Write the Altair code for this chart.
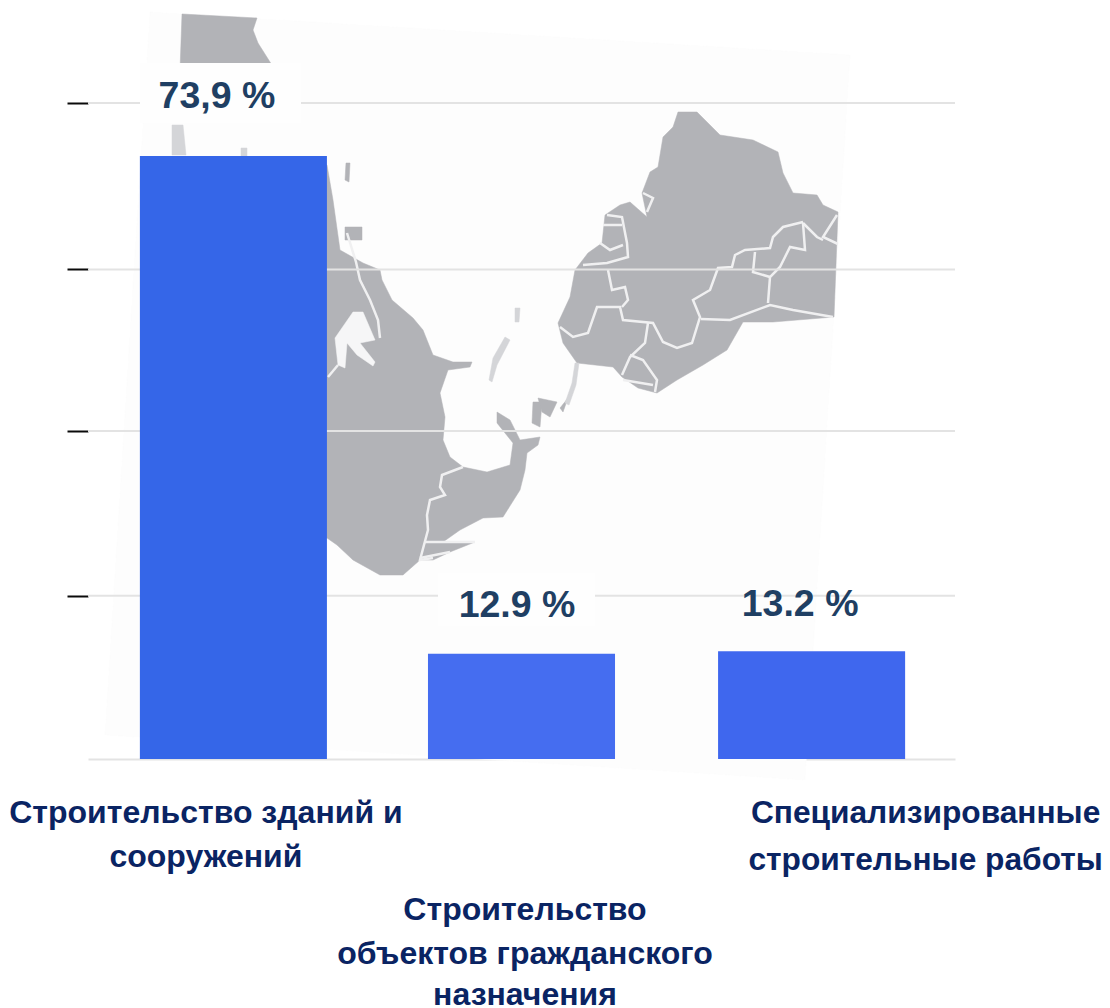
import altair as alt
import pandas as pd

categories = ["Строительство зданий и сооружений", "Строительство объектов гражданского назначения", "Специализированные строительные работы"]
values = [73.9, 12.9, 13.2]
value_labels = ["73,9 %", "12.9 %", "13.2 %"]
bar_colors = ["#3566e8", "#456df0", "#3f67ee"]
label_lines = [["Строительство зданий и", "сооружений"],
               ["Строительство", "объектов гражданского", "назначения"],
               ["Специализированные", "строительные работы"]]
grid_values = [20, 40.2, 60, 80.4]

image_sheet = [[150,12],[850,55],[805,780],[105,735]]
land_polygons = [
 [[182,14],[257,18],[253,30],[258,43],[270,62],[275,70],[180,70]],
 [[300,160],[327,165],[333,200],[340,250],[363,263],[380,270],[382,280],[392,300],[413,318],[423,330],[433,355],[453,362],[472,362],[470,367],[448,370],[440,393],[445,417],[443,440],[450,457],[463,467],[487,472],[510,465],[513,443],[497,423],[497,412],[510,420],[520,440],[540,437],[538,445],[527,453],[525,470],[520,490],[503,517],[483,518],[460,530],[443,542],[475,542],[450,552],[433,560],[420,560],[403,575],[380,575],[353,560],[337,545],[327,538],[300,538]],
 [[678,112],[697,112],[720,135],[753,140],[778,152],[783,173],[793,193],[817,195],[823,205],[838,212],[834,317],[773,322],[743,322],[727,350],[703,365],[677,380],[657,393],[638,388],[622,377],[613,367],[577,363],[563,343],[558,323],[570,297],[575,270],[588,253],[602,243],[605,215],[620,205],[630,202],[647,217],[642,193],[650,172],[658,167],[663,137],[673,127]],
 [[533,402],[542,402],[540,427],[532,423]],
 [[538,398],[557,402],[550,417],[542,412]],
 [[568,398],[563,412],[560,408]],
 [[346,163],[350,163],[349,182],[345,180]],
 [[345,227],[362,227],[362,240],[345,240]],
]
faint_polygons = [
 [[505,337],[510,340],[497,365],[492,382],[489,380],[493,358]],
 [[515,308],[520,308],[519,322],[515,322]],
 [[172,125],[183,125],[186,155],[172,155]],
 [[241,148],[247,148],[247,156],[241,156]],
 [[575,363],[579,363],[576,385],[569,405],[565,403],[572,383]],
]
lake_polygon = [[335,338],[353,312],[363,312],[375,340],[360,343],[375,362],[373,366],[357,355],[347,343],[345,368],[338,365]]
border_lines = [
 [[347,233],[356,262],[360,280],[370,300],[378,320],[380,338]],
 [[463,467],[442,475],[440,487],[445,495],[430,500],[427,515],[428,530],[420,560],[433,558]],
 [[425,542],[475,542]],
 [[420,558],[450,552]],
 [[338,365],[328,377]],
 [[837,215],[823,237],[838,244]],
 [[803,222],[783,227],[773,237],[770,248],[745,250],[735,255],[732,267],[718,268],[710,290],[693,300],[700,317],[692,343],[677,348],[663,342],[653,323],[623,320],[620,307],[597,307],[588,333],[573,337],[560,327]],
 [[803,223],[817,237],[823,240]],
 [[803,223],[805,250],[790,247],[780,267],[770,277],[768,303]],
 [[755,252],[753,272],[770,277]],
 [[701,319],[730,320],[770,305],[793,310],[833,317]],
 [[648,323],[645,343],[630,357],[622,375]],
 [[630,355],[643,360],[657,380],[655,392]],
 [[623,380],[653,385]],
 [[608,270],[612,290],[625,287],[628,300],[622,307]],
 [[583,265],[607,263],[628,257],[627,243],[622,217],[607,215]],
 [[603,225],[622,225]],
 [[600,243],[610,250],[623,245]],
 [[643,193],[653,198],[647,212]],
]
label_boxes = [[140,301,63,123],[438,595,573,626]]

LEFT, TOP, W, H = 88, 103, 867, 656
proj = dict(type="identity", scale=1, translate=[-LEFT, -TOP])
x_scale = alt.Scale(domain=categories, paddingInner=0.353, paddingOuter=0.176)
y_scale = alt.Scale(domain=[0, 80.4], nice=False)
x_axis = alt.Axis(title=None, labels=False, ticks=False, domain=True, domainColor="#e3e3e3", domainWidth=2)
y_axis = alt.Axis(title=None, labels=False, grid=False, domain=False, values=grid_values,
                  tickSize=21, tickColor="#0a0a0a", tickWidth=2)


def feat(kind, coords):
    return {"type": "Feature", "properties": {}, "geometry": {"type": kind, "coordinates": coords}}


def polys(items, fill):
    return alt.Chart(alt.Data(values=[feat("Polygon", [p + p[:1]]) for p in items])).mark_geoshape(
        fill=fill, stroke=fill, strokeWidth=0.5, clip=False).project(**proj)


sheet = polys([image_sheet], "#fdfdfd")
land = polys(land_polygons, "#b2b3b7")
faint = polys(faint_polygons, "#d4d5d8")
lake = polys([lake_polygon], "#f6f6f7")
borders = alt.Chart(alt.Data(values=[feat("LineString", l) for l in border_lines])).mark_geoshape(
    filled=False, stroke="#f0f0f1", strokeWidth=2.5, clip=False).project(**proj)

df = pd.DataFrame({"category": categories, "value": values, "label": value_labels, "color": bar_colors})

x_enc = alt.X("category:N", scale=x_scale, sort=None, axis=x_axis)
y_enc = alt.Y("value:Q", scale=y_scale, axis=y_axis)

grid = alt.Chart(pd.DataFrame({"value": grid_values})).mark_rule(color="#e3e3e3", strokeWidth=2).encode(
    y=y_enc, x=alt.value(0), x2=alt.value(W))

layers = [sheet, land, faint, lake, borders, grid]
for l, r, t, b in label_boxes:
    layers.append(alt.Chart(df.head(1)).mark_rect(color="#fefefe").encode(
        x=alt.value(l - LEFT), x2=alt.value(r - LEFT), y=alt.value(t - TOP), y2=alt.value(b - TOP)))

bar_shift = [1, 0, 1]
for i, shift in enumerate(bar_shift):
    layers.append(alt.Chart(df.iloc[[i]]).mark_bar(xOffset=shift).encode(
        x=x_enc, y=y_enc, color=alt.Color("color:N", scale=None)))

value_offsets = [(-15.5, -48), (-4.5, -37), (-10.5, -35)]
for i, (dx, dy) in enumerate(value_offsets):
    layers.append(alt.Chart(df.iloc[[i]]).mark_text(font="Liberation Sans", fontWeight="bold", fontSize=37.5,
        color="#1f3f63", baseline="alphabetic", dx=dx, dy=dy).encode(x=x_enc, y=y_enc, text="label:N"))

label_dx = [-26.5, 3.5, 115]
label_sizes = [32, 32, 31.7]
label_baselines = [[823, 867], [920, 964, 1005], [823, 870]]
for i, lines in enumerate(label_lines):
    for line, base in zip(lines, label_baselines[i]):
        layers.append(alt.Chart(pd.DataFrame({"category": [categories[i]], "t": [line]})).mark_text(
            font="Liberation Sans", fontWeight="bold", fontSize=label_sizes[i], color="#0a2463",
            baseline="alphabetic", dx=label_dx[i]).encode(x=x_enc, y=alt.value(base - TOP), text="t:N"))

chart = alt.layer(*layers).properties(
    width=W, height=H, autosize=alt.AutoSizeParams(type="none"),
    padding={"left": LEFT - 8, "top": TOP - 8, "right": 147, "bottom": 256},
).configure_view(stroke=None)
chart.save("out.html", embed_options={"renderer": "svg", "actions": False})
